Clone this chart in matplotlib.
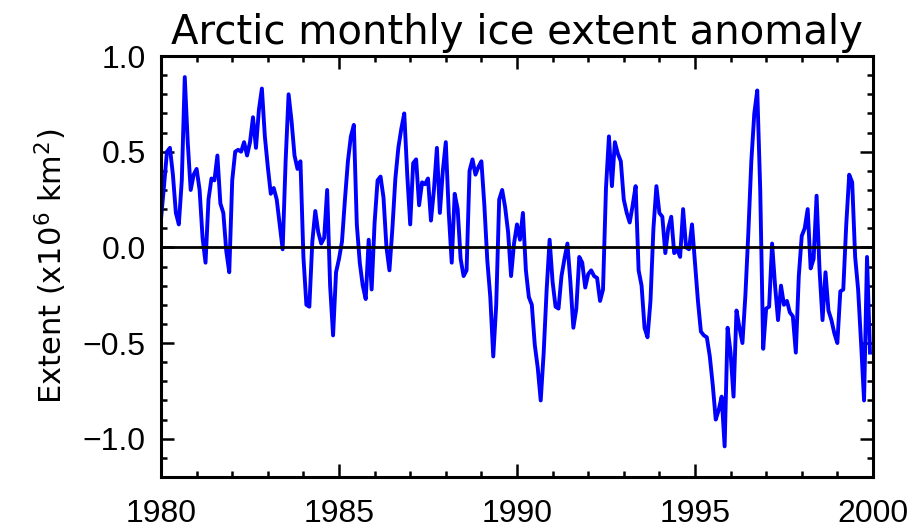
import numpy as np
import matplotlib
matplotlib.use("Agg")
import matplotlib.pyplot as plt
from matplotlib.ticker import MultipleLocator

# monthly anomalies (x10^6 km^2), Jan..Dec
y1980 = [0.15, 0.32, 0.50, 0.52, 0.38, 0.18, 0.12, 0.35, 0.89, 0.55, 0.30, 0.38]
y1981 = [0.41, 0.30, 0.05, -0.08, 0.25, 0.36, 0.35, 0.48, 0.23, 0.18, -0.02, -0.13]
y1982 = [0.35, 0.50, 0.51, 0.50, 0.55, 0.48, 0.55, 0.68, 0.52, 0.72, 0.83, 0.58]
y1983 = [0.42, 0.28, 0.31, 0.25, 0.12, -0.01, 0.45, 0.80, 0.66, 0.48, 0.41, 0.45]
y1984 = [-0.05, -0.30, -0.31, 0.03, 0.19, 0.08, 0.02, 0.05, 0.30, -0.20, -0.46, -0.13]
y1985 = [-0.06, 0.03, 0.25, 0.45, 0.58, 0.64, 0.12, -0.08, -0.20, -0.27, 0.04, -0.22]
y1986 = [0.13, 0.35, 0.37, 0.26, 0.00, -0.12, 0.10, 0.36, 0.52, 0.62, 0.70, 0.38]
y1987 = [0.12, 0.44, 0.46, 0.22, 0.34, 0.33, 0.36, 0.14, 0.30, 0.52, 0.18, 0.40]
y1988 = [0.55, 0.18, -0.08, 0.28, 0.20, -0.06, -0.15, -0.12, 0.40, 0.46, 0.38, 0.42]
y1989 = [0.45, 0.22, -0.07, -0.26, -0.57, -0.30, 0.25, 0.30, 0.21, 0.08, -0.15, 0.02]
y1990 = [0.12, 0.04, 0.18, -0.12, -0.26, -0.30, -0.51, -0.63, -0.80, -0.55, -0.22, 0.04]
y1991 = [-0.18, -0.31, -0.32, -0.15, -0.06, 0.02, -0.18, -0.42, -0.32, -0.05, -0.08, -0.21]
y1992 = [-0.14, -0.12, -0.15, -0.16, -0.28, -0.22, 0.31, 0.58, 0.32, 0.55, 0.49, 0.45]
y1993 = [0.25, 0.18, 0.13, 0.22, 0.32, -0.12, -0.20, -0.42, -0.47, -0.28, 0.10, 0.32]
y1994 = [0.18, 0.16, -0.03, 0.10, 0.16, -0.03, -0.01, -0.05, 0.20, 0.00, -0.01, 0.12]
y1995 = [-0.08, -0.28, -0.44, -0.46, -0.47, -0.57, -0.72, -0.90, -0.85, -0.78, -1.04, -0.42]
y1996 = [-0.55, -0.78, -0.33, -0.42, -0.50, -0.25, 0.08, 0.45, 0.70, 0.82, 0.30, -0.53]
y1997 = [-0.32, -0.31, 0.02, -0.20, -0.38, -0.20, -0.30, -0.28, -0.34, -0.36, -0.55, -0.15]
y1998 = [0.06, 0.10, 0.20, -0.11, -0.06, 0.27, -0.12, -0.38, -0.13, -0.33, -0.38, -0.45]
y1999 = [-0.50, -0.23, -0.22, 0.12, 0.38, 0.34, -0.05, -0.22, -0.50, -0.80, -0.05, -0.55]

years = list(range(1980, 2000))
anomaly = np.array(y1980 + y1981 + y1982 + y1983 + y1984 + y1985 + y1986
                   + y1987 + y1988 + y1989 + y1990 + y1991 + y1992 + y1993
                   + y1994 + y1995 + y1996 + y1997 + y1998 + y1999)
time = years[0] + np.arange(len(anomaly)) / 12.0

xticks = [1980, 1985, 1990, 1995, 2000]
yticks = [-1.0, -0.5, 0.0, 0.5, 1.0]

tickfont = ["Liberation Sans", "DejaVu Sans"]

fig = plt.figure(figsize=(9.16, 5.29), dpi=100)
ax = fig.add_axes([0.1758, 0.0983, 0.7772, 0.7958])

ax.plot(time, anomaly, color="#0000ff", lw=2.8)
ax.axhline(0.0, color="black", lw=2.0)

ax.set_xlim(1980, 2000)
ax.set_ylim(-1.2, 1.0)
ax.set_xticks(xticks)
ax.set_xticklabels([str(t) for t in xticks], family=tickfont, fontsize=23)
ax.set_yticks(yticks)
ax.set_yticklabels(["\u22121.0", "\u22120.5", "0.0", "0.5", "1.0"],
                   family=tickfont, fontsize=23)
ax.xaxis.set_minor_locator(MultipleLocator(1))
ax.yaxis.set_minor_locator(MultipleLocator(0.1))
ax.tick_params(which="both", direction="in", top=True, right=True, width=1.8)
ax.tick_params(which="major", length=9.5)
ax.tick_params(which="minor", length=4.5)
ax.tick_params(axis="x", which="major", pad=16)
ax.tick_params(axis="y", which="major", pad=11)
for s in ax.spines.values():
    s.set_linewidth(2.2)

ax.set_title("Arctic monthly ice extent anomaly", fontsize=29, pad=9)
ax.set_ylabel("Extent (x10$^6$ km$^2$)", fontsize=22, labelpad=10)

plt.savefig("out.png", dpi=100)
